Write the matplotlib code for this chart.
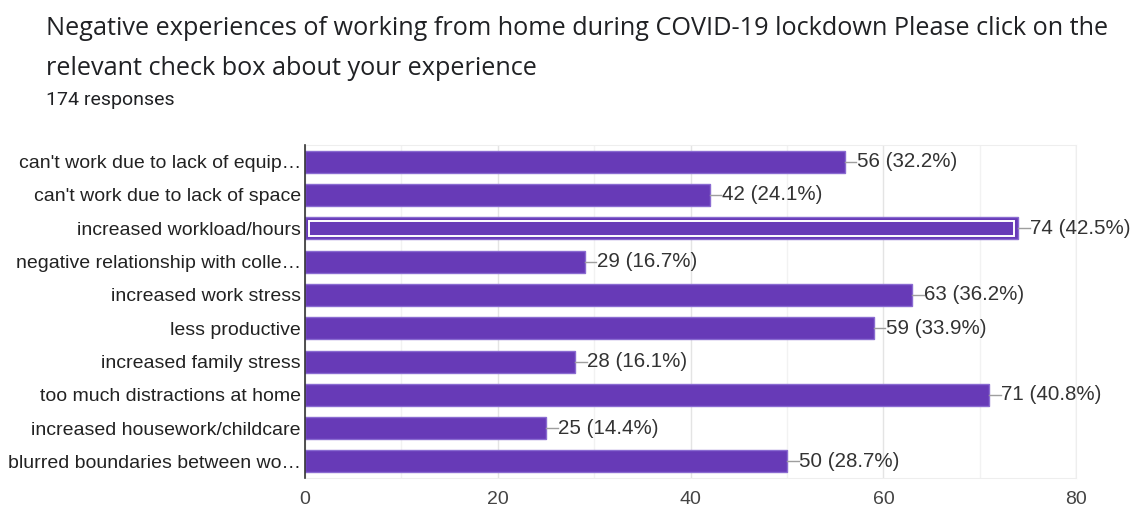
import matplotlib.pyplot as plt
from matplotlib.ticker import MultipleLocator

plt.rcParams['font.family'] = ['Liberation Sans', 'DejaVu Sans']

categories = [
    "can't work due to lack of equip…",
    "can't work due to lack of space",
    "increased workload/hours",
    "negative relationship with colle…",
    "increased work stress",
    "less productive",
    "increased family stress",
    "too much distractions at home",
    "increased housework/childcare",
    "blurred boundaries between wo…",
]
counts = [56, 42, 74, 29, 63, 59, 28, 71, 25, 50]
percents = [32.2, 24.1, 42.5, 16.7, 36.2, 33.9, 16.1, 40.8, 14.4, 28.7]
highlighted = "increased workload/hours"
total_responses = 174

BAR = "#673ab7"
EDGE = "#8a6bd1"

fig = plt.figure(figsize=(11.34, 5.07), dpi=100)
ax = fig.add_axes([0.269, 0.057, 0.680, 0.657])

ypos = list(range(len(categories)))
ax.barh(ypos, counts, height=0.66, color=BAR, edgecolor=EDGE, linewidth=1, zorder=3)

# selected bar gets a white inner outline
hi = categories.index(highlighted)
ax.barh(hi, counts[hi] - 0.8, left=0.4, height=0.46, facecolor="none",
        edgecolor="white", linewidth=1.4, zorder=4)

for y, c, p in zip(ypos, counts, percents):
    ax.plot([c, c + 1.2], [y, y], color="#9e9e9e", lw=1, zorder=3)
    ax.text(c + 1.25, y, f"{c} ({p}%)", va="center", ha="left",
            fontsize=14.8, color="#333333")

ax.set_yticks(ypos)
ax.set_yticklabels(categories, fontsize=14, color="#222222")
ax.set_ylim(len(categories) - 0.5, -0.5)
ax.set_xlim(0, 80)
ax.xaxis.set_major_locator(MultipleLocator(20))
ax.xaxis.set_minor_locator(MultipleLocator(10))
ax.tick_params(axis="x", which="both", length=0, labelsize=14,
               labelcolor="#444444", pad=9)
ax.tick_params(axis="y", length=0, pad=3)

ax.grid(axis="x", which="major", color="#e4e4e4", lw=1, zorder=0)
ax.grid(axis="x", which="minor", color="#f2f2f2", lw=1, zorder=0)

for side in ("top", "right", "bottom"):
    ax.spines[side].set_color("#eeeeee")
ax.spines["left"].set_color("#333333")
ax.spines["left"].set_linewidth(1.2)
ax.spines["left"].set_zorder(5)

title_font = ['Open Sans', 'DejaVu Sans']
fig.text(0.041, 0.943, "Negative experiences of working from home during COVID-19 lockdown Please click on the",
         fontsize=18.2, color="#202124", va="center", family=title_font)
fig.text(0.041, 0.864, "relevant check box about your experience",
         fontsize=18.2, color="#202124", va="center", family=title_font)
fig.text(0.041, 0.802, f"{total_responses} responses", fontsize=14,
         color="#202124", va="center", family=['Roboto', 'DejaVu Sans'])

fig.savefig("out.png", dpi=100, facecolor="white")
